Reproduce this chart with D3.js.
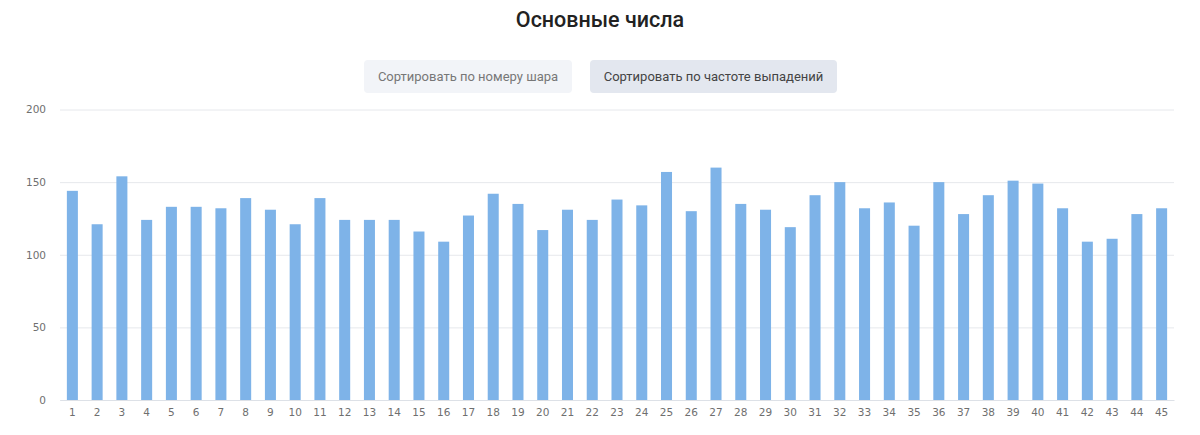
<!DOCTYPE html>
<html>
<head>
<meta charset="utf-8">
<script src="https://cdn.jsdelivr.net/npm/d3@7"></script>
<style>
  body { margin: 0; background: #fff; }
  .tick text { font-family: "DejaVu Sans", sans-serif; font-size: 10.5px; fill: #6f6f6f; }
</style>
</head>
<body>
<div id="chart"></div>
<script>
// Chart size
const width = 1200;
const height = 435;
const margin = { top: 109.5, right: 26, bottom: 35, left: 60 };

// Data
const balls = d3.range(1, 46).map(String);
const counts = [
  144, 121, 154, 124, 133, 133, 132, 139, 131, 121,
  139, 124, 124, 124, 116, 109, 127, 142, 135, 117,
  131, 124, 138, 134, 157, 130, 160, 135, 131, 119,
  141, 150, 132, 136, 120, 150, 128, 141, 151, 149,
  132, 109, 111, 128, 132
];
const yTicks = [0, 50, 100, 150, 200];
const buttonLabels = ["Сортировать по номеру шара", "Сортировать по частоте выпадений"];

const svg = d3.select("#chart")
  .append("svg")
  .attr("width", width)
  .attr("height", height);

// Title
svg.append("text")
  .attr("x", 600)
  .attr("y", 27)
  .attr("text-anchor", "middle")
  .style("font-family", "Roboto, sans-serif")
  .style("font-weight", 500)
  .style("font-size", "21.5px")
  .style("fill", "#222")
  .text("Основные числа");

// Sort buttons
const buttons = [
  { x: 364, w: 208, fill: "#f2f4f8", color: "#777" },
  { x: 590, w: 247, fill: "#e3e7ef", color: "#444" }
];
buttons.forEach((b, i) => {
  svg.append("rect")
    .attr("x", b.x).attr("y", 60)
    .attr("width", b.w).attr("height", 33)
    .attr("rx", 4)
    .attr("fill", b.fill);
  svg.append("text")
    .attr("x", b.x + b.w / 2)
    .attr("y", 81)
    .attr("text-anchor", "middle")
    .style("font-family", "Roboto, sans-serif")
    .style("font-size", "13px")
    .style("fill", b.color)
    .text(buttonLabels[i]);
});

// Scales
const x = d3.scaleBand()
  .domain(balls)
  .range([margin.left, width - margin.right])
  .paddingInner(0.555)
  .paddingOuter(0.2775);

const y = d3.scaleLinear()
  .domain([0, 200])
  .range([height - margin.bottom, margin.top]);

// Gridlines + y labels
const yAxis = svg.append("g")
  .attr("transform", `translate(${margin.left},0)`)
  .call(d3.axisLeft(y).tickValues(yTicks).tickSize(-(width - margin.left - margin.right)).tickPadding(14));
yAxis.select(".domain").remove();
yAxis.selectAll(".tick line").attr("stroke", "#e6e8ec");

// Bars
svg.selectAll("rect.bar")
  .data(counts)
  .enter()
  .append("rect")
  .attr("class", "bar")
  .attr("x", (d, i) => x(balls[i]))
  .attr("y", d => y(d))
  .attr("width", x.bandwidth())
  .attr("height", d => y(0) - y(d))
  .attr("fill", "#7eb3e8");

// X axis
const xAxis = svg.append("g")
  .attr("transform", `translate(0,${y(0)})`)
  .call(d3.axisBottom(x).tickSize(0).tickPadding(9));
xAxis.select(".domain").attr("stroke", "#dde1e7");
</script>
</body>
</html>
